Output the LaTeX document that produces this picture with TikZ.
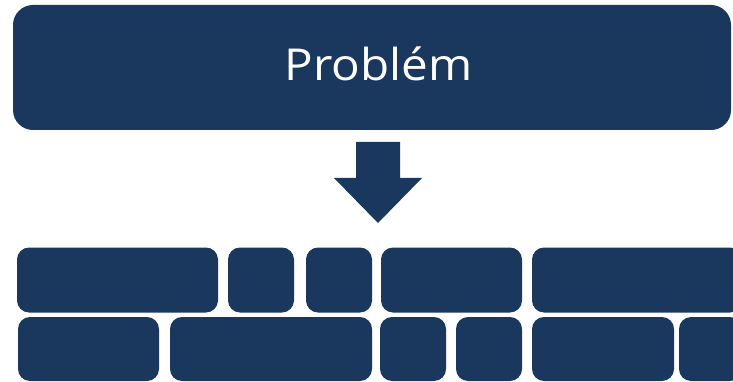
\documentclass[tikz,border=0pt]{standalone}
\usepackage{fontspec}
\setsansfont{Open Sans}
\newfontfamily\titlefont[FakeStretch=1.08]{Open Sans}
\definecolor{navy}{RGB}{26,55,94}

\begin{document}
\begin{tikzpicture}[
    x=1pt,y=-1pt,
    font=\sffamily,
    base/.style={fill=navy,inner sep=0pt,outer sep=0pt,rectangle},
    bigbox/.style={base,rounded corners=20pt},
    brick/.style={base,rounded corners=12pt},
    titlenode/.style={text=white,inner sep=0pt,font=\titlefont\fontsize{44}{52}\selectfont},
    ]
    \useasboundingbox (0,0) rectangle (733,382);
    \clip (0,0) rectangle (733,382);
    \node[bigbox,minimum width=718,minimum height=125] (problem) at (372,67.5) {};
    \node[titlenode,anchor=base] (title) at (378.5,81) {Problém};

    \fill[navy] (356,142) -- (400,142) -- (400,178) -- (422,178)
        -- (378,223) -- (334,178) -- (356,178) -- cycle;

    % upper row
    \foreach \a/\b [count=\i] in {17/218,228/294,306/372,381/522,532/742}
        \node[brick,minimum width={\b-\a},minimum height=65] (top\i) at ({(\a+\b)/2},280) {};
    % lower row
    \foreach \a/\b [count=\i] in {18/159,170/372,380/446,456/522,532/674,679/742}
        \node[brick,minimum width={\b-\a},minimum height=64] (low\i) at ({(\a+\b)/2},349) {};
\end{tikzpicture}
\end{document}
